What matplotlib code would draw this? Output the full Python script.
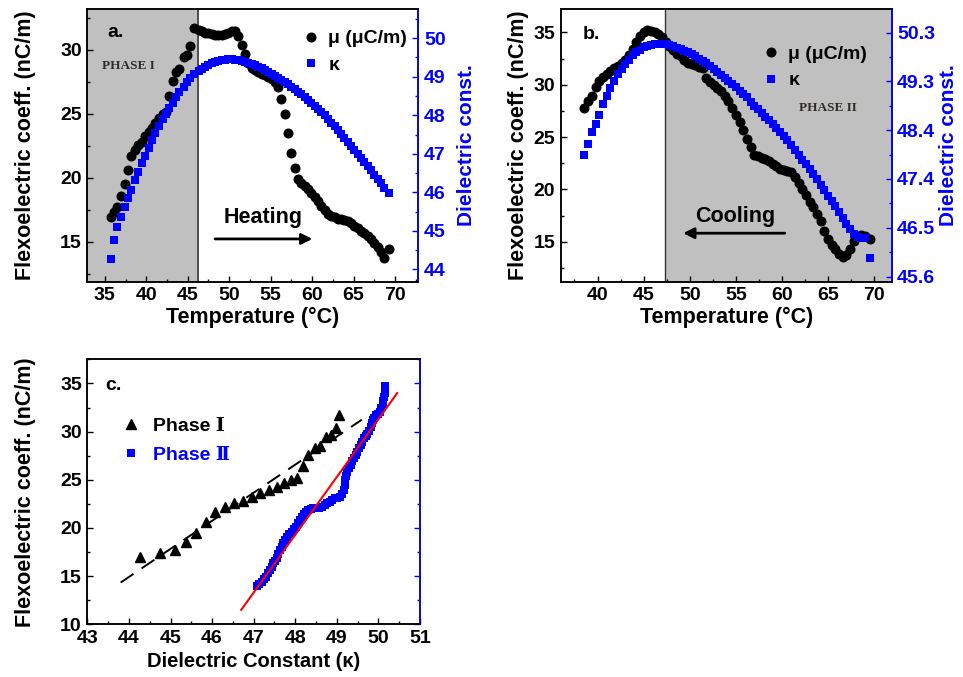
import matplotlib
matplotlib.use("Agg")
import matplotlib.pyplot as plt
from matplotlib.ticker import MultipleLocator, FixedLocator
import numpy as np

plt.rcParams["font.family"] = ["Liberation Sans", "DejaVu Sans"]
plt.rcParams["font.weight"] = "bold"
plt.rcParams["axes.labelweight"] = "bold"

BLUE = "#0000ff"

# ---------------- panel a : heating ----------------
temp_a = [35.7, 36.1, 36.5, 37.0, 37.4, 37.8, 38.2, 38.6, 39.0, 39.5,
          39.9, 40.3, 40.7, 41.1, 41.5, 42.0, 42.4, 42.8, 43.2, 43.6,
          44.0, 44.5, 44.9, 45.3, 45.7,
          46.3, 46.7, 47.1, 47.5, 47.9, 48.3, 48.7, 49.1, 49.5, 49.9,
          50.3, 50.7, 51.1, 51.5, 51.9, 52.3, 52.7, 53.1, 53.5, 53.9,
          54.3, 54.7, 55.1, 55.5, 55.9, 56.3, 56.7, 57.1, 57.5, 57.9,
          58.3, 58.7, 59.1, 59.5, 59.9, 60.3, 60.7, 61.1, 61.5, 61.9,
          62.3, 62.7, 63.1, 63.5, 63.9, 64.3, 64.7, 65.1, 65.5, 65.9,
          66.3, 66.7, 67.1, 67.5, 67.9, 68.3, 68.7, 69.3]
mu_a = [16.95, 17.36, 17.71, 18.57, 19.5, 20.64, 21.68, 22.2, 22.55, 22.83,
        23.24, 23.59, 23.93, 24.27, 24.69, 24.97, 25.14, 26.42, 27.56, 28.25,
        28.5, 29.46, 29.64, 30.33, 31.71,
        31.55, 31.45, 31.35, 31.3, 31.25, 31.2, 31.2, 31.2, 31.25, 31.3,
        31.45, 31.5, 31.1, 30.4, 29.7, 29.0, 28.6, 28.4, 28.25, 28.1,
        28.0, 27.9, 27.75, 27.5, 27.1, 26.2, 25.0, 23.5, 21.95, 20.8,
        19.9, 19.6, 19.35, 19.1, 18.8, 18.5, 18.15, 17.8, 17.45, 17.2,
        17.0, 16.9, 16.8, 16.75, 16.7, 16.6, 16.45, 16.25, 16.05, 15.85,
        15.65, 15.45, 15.2, 14.9, 14.55, 14.2, 13.75, 14.45]
kappa_a = [44.27, 44.75, 45.11, 45.37, 45.62, 45.85, 46.06, 46.31, 46.53, 46.75,
           46.95, 47.16, 47.37, 47.55, 47.73, 47.9, 48.03, 48.18, 48.31, 48.47,
           48.6, 48.74, 48.85, 48.97, 49.06,
           49.15, 49.2, 49.26, 49.3, 49.35, 49.38, 49.41, 49.43, 49.44, 49.45,
           49.45, 49.44, 49.43, 49.41, 49.39, 49.36, 49.33, 49.3, 49.26, 49.22,
           49.18, 49.13, 49.08, 49.03, 48.97, 48.92, 48.86, 48.8, 48.74, 48.68,
           48.61, 48.54, 48.47, 48.4, 48.32, 48.24, 48.16, 48.08, 48.0, 47.9,
           47.81, 47.71, 47.61, 47.51, 47.41, 47.31, 47.2, 47.1, 47.0, 46.9,
           46.79, 46.68, 46.57, 46.46, 46.35, 46.24, 46.12, 45.97]
t_heat = 46.2   # phase I boundary on heating

# ---------------- panel b : cooling ----------------
temp_b = [38.5, 39.0, 39.4, 39.8, 40.2, 40.6, 41.0, 41.4, 41.8, 42.2,
          42.6, 43.0, 43.4, 43.8, 44.2, 44.6, 45.0, 45.4, 45.8, 46.2,
          46.6, 47.0, 47.4, 47.8, 48.2, 48.6, 49.0, 49.4, 49.8, 50.2,
          50.6, 51.0, 51.4, 51.8, 52.2, 52.6, 53.0, 53.4, 53.8, 54.2,
          54.6, 55.0, 55.4, 55.8, 56.2, 56.6, 57.0, 57.4, 57.8, 58.2,
          58.6, 59.0, 59.4, 59.8, 60.2, 60.6, 61.0, 61.4, 61.8, 62.2,
          62.6, 63.0, 63.4, 63.8, 64.2, 64.6, 65.0, 65.4, 65.8, 66.2,
          66.6, 67.0, 67.4, 67.8, 68.2, 68.6, 69.0, 69.5]
mu_b = [27.8, 28.4, 28.95, 29.8, 30.4, 30.77, 31.05, 31.3, 31.55, 31.8,
        32.05, 32.4, 32.8, 33.4, 34.05, 34.65, 35.0, 35.2, 35.15, 35.05,
        34.85, 34.55, 34.05, 33.65, 33.3, 32.95, 32.7, 32.4, 32.1, 31.95,
        31.85, 31.7, 31.55, 30.6, 30.25, 29.95, 29.7, 29.4, 28.95, 28.4,
        27.75, 27.1, 26.4, 25.7, 24.8, 24.1, 23.3, 23.15, 23.05, 22.9,
        22.7, 22.45, 22.2, 22.0, 21.85, 21.75, 21.65, 21.2, 20.6, 20.0,
        19.45, 18.85, 18.3, 17.7, 17.0, 16.0, 15.3, 14.75, 14.3, 13.85,
        13.6, 13.75, 14.35, 15.05, 15.55, 15.7, 15.55, 15.3]
kappa_b = [47.94, 48.15, 48.38, 48.54, 48.72, 48.92, 49.08, 49.24, 49.37, 49.5,
           49.6, 49.7, 49.78, 49.86, 49.93, 49.97, 50.02, 50.05, 50.07, 50.09,
           50.09, 50.09, 50.08, 50.06, 50.04, 50.01, 49.98, 49.95, 49.92, 49.88,
           49.84, 49.8, 49.76, 49.71, 49.66, 49.6, 49.55, 49.49, 49.43, 49.37,
           49.31, 49.25, 49.18, 49.12, 49.05, 48.97, 48.89, 48.82, 48.75, 48.68,
           48.61, 48.54, 48.46, 48.39, 48.31, 48.23, 48.13, 48.04, 47.95, 47.85,
           47.76, 47.67, 47.58, 47.48, 47.37, 47.26, 47.15, 47.05, 46.95, 46.85,
           46.73, 46.62, 46.52, 46.42, 46.37, 46.35, 46.34, 45.95]
t_cool = 47.35  # phase II boundary on cooling
kappa_b_ticks = [45.6, 46.54, 47.48, 48.42, 49.36, 50.3]
kappa_b_labels = ["45.6", "46.5", "47.4", "48.4", "49.3", "50.3"]

# ---------------- panel c : mu vs kappa ----------------
kappa_c2 = [47.07, 47.13, 47.19, 47.25, 47.3, 47.35, 47.39, 47.43, 47.47, 47.51,
            47.55, 47.59, 47.63, 47.67, 47.71, 47.76, 47.81, 47.86, 47.91, 47.97,
            48.02, 48.07, 48.11, 48.16, 48.21, 48.26, 48.31, 48.37, 48.43, 48.5,
            48.58, 48.65, 48.71, 48.77, 48.83, 48.89, 48.95, 49.01, 49.07, 49.13,
            49.17, 49.19, 49.2, 49.23, 49.25, 49.29, 49.33, 49.37, 49.41, 49.45,
            49.49, 49.53, 49.57, 49.61, 49.65, 49.69, 49.73, 49.77, 49.81, 49.84,
            49.87, 49.9, 49.94, 49.99, 50.04, 50.07, 50.1, 50.12, 50.13, 50.15,
            50.16, 50.16]
mu_c2 = [13.97, 14.2, 14.42, 14.7, 14.94, 15.3, 15.63, 16.0, 16.33, 16.6,
         16.85, 17.3, 17.71, 18.05, 18.4, 18.75, 19.09, 19.35, 19.6, 19.85,
         20.12, 20.5, 20.82, 21.15, 21.44, 21.65, 21.86, 21.95, 22.03, 22.03,
         22.03, 22.2, 22.38, 22.55, 22.72, 22.9, 23.07, 23.15, 23.24, 23.5,
         23.93, 24.45, 24.97, 25.4, 25.83, 26.2, 26.53, 26.9, 27.22, 27.55,
         27.9, 28.25, 28.6, 28.95, 29.29, 29.5, 29.74, 30.1, 30.5, 30.85,
         31.19, 31.45, 31.7, 31.85, 32.05, 32.4, 32.75, 33.2, 33.6, 34.05,
         34.48, 34.7]
fit_span_1 = [43.8, 49.6]
fit_span_2 = [46.7, 50.45]

# phase I points of panel c are the heating points below the transition
temp_a_arr = np.array(temp_a)
phase1 = temp_a_arr < t_heat
kappa_c1 = np.array(kappa_a)[phase1]
mu_c1 = np.array(mu_a)[phase1]


def style_axes(ax):
    for s in ax.spines.values():
        s.set_linewidth(1.1)
    ax.tick_params(which="both", direction="in", width=1.0, labelsize=14, pad=4)
    ax.tick_params(which="major", length=4.5)
    ax.tick_params(which="minor", length=2.5)


def style_right(ax2):
    style_axes(ax2)
    ax2.spines["right"].set_color(BLUE)
    ax2.tick_params(axis="y", which="both", colors=BLUE)


fig = plt.figure(figsize=(9.63, 6.77), dpi=100)
ax_a = fig.add_axes([0.0907, 0.5839, 0.3437, 0.4024])
ax_b = fig.add_axes([0.5822, 0.5839, 0.3437, 0.4024])
ax_c = fig.add_axes([0.0907, 0.0778, 0.3455, 0.3914])

# ===== panel a =====
ax_a.axvspan(32.9, t_heat, color="#c0c0c0", lw=0, zorder=0)
ax_a.axvline(t_heat, color="#4d4d4d", lw=1.4, zorder=1)
mu_line_a, = ax_a.plot(temp_a, mu_a, "o", color="k", ms=6.2, zorder=3)
ax_a.set_xlim(32.9, 72.8)
ax_a.set_ylim(11.87, 33.18)
ax_a.xaxis.set_major_locator(MultipleLocator(5))
ax_a.xaxis.set_minor_locator(MultipleLocator(2.5))
ax_a.yaxis.set_major_locator(MultipleLocator(5))
ax_a.yaxis.set_minor_locator(MultipleLocator(2.5))
style_axes(ax_a)
ax_a.set_xlabel("Temperature (°C)", fontsize=15.5, labelpad=2)
ax_a.set_ylabel("Flexoelectric coeff. (nC/m)", fontsize=15.5, labelpad=17)

ax_a2 = ax_a.twinx()
k_line_a, = ax_a2.plot(temp_a, kappa_a, "s", color=BLUE, ms=5.9, mew=0)
ax_a2.set_ylim(43.68, 50.75)
ax_a2.yaxis.set_major_locator(MultipleLocator(1))
ax_a2.yaxis.set_minor_locator(MultipleLocator(0.5))
style_right(ax_a2)
ax_a2.set_ylabel("Dielectric const.", fontsize=15, color=BLUE, labelpad=8)
ax_a2.legend([mu_line_a, k_line_a], ["μ (μC/m)", "κ"], loc="upper left",
             bbox_to_anchor=(0.646, 0.925), frameon=False, fontsize=14,
             handlelength=1.0, handletextpad=0.4, borderpad=0,
             borderaxespad=0, labelspacing=0.45, numpoints=1)

ax_a2.text(0.084, 0.913, "a.", transform=ax_a2.transAxes, fontsize=14,
           ha="center", va="center")
ax_a2.text(0.123, 0.793, "PHASE I", transform=ax_a2.transAxes,
           fontsize=9.5, family="Liberation Serif", color="#2e2a26",
           ha="center", va="center")
ax_a2.text(0.531, 0.234, "Heating", transform=ax_a2.transAxes,
           fontsize=15.5, ha="center", va="center")
ax_a2.annotate("", xy=(0.68, 0.157), xytext=(0.386, 0.157),
               xycoords="axes fraction", textcoords="axes fraction",
               arrowprops=dict(arrowstyle="-|>", color="k", lw=2,
                               mutation_scale=16, shrinkA=0, shrinkB=0))

# ===== panel b =====
ax_b.axvspan(t_cool, 71.9, color="#c0c0c0", lw=0, zorder=0)
ax_b.axvline(t_cool, color="#333333", lw=1.0, zorder=1)
mu_line_b, = ax_b.plot(temp_b, mu_b, "o", color="k", ms=6.2, zorder=3)
ax_b.set_xlim(36.0, 71.9)
ax_b.set_ylim(11.2, 37.2)
ax_b.xaxis.set_major_locator(MultipleLocator(5))
ax_b.xaxis.set_minor_locator(MultipleLocator(2.5))
ax_b.yaxis.set_major_locator(MultipleLocator(5))
ax_b.yaxis.set_minor_locator(MultipleLocator(2.5))
style_axes(ax_b)
ax_b.set_xlabel("Temperature (°C)", fontsize=15.5, labelpad=2)
ax_b.set_ylabel("Flexoelectric coeff. (nC/m)", fontsize=15.5, labelpad=3)

ax_b2 = ax_b.twinx()
k_line_b, = ax_b2.plot(temp_b, kappa_b, "s", color=BLUE, ms=5.9, mew=0)
ax_b2.set_ylim(45.5, 50.75)
ax_b2.yaxis.set_major_locator(FixedLocator(kappa_b_ticks))
ax_b2.set_yticklabels(kappa_b_labels)
ax_b2.yaxis.set_minor_locator(FixedLocator(
    [(a + b) / 2 for a, b in zip(kappa_b_ticks[:-1], kappa_b_ticks[1:])]))
style_right(ax_b2)
ax_b2.set_ylabel("Dielectric const.", fontsize=15, color=BLUE, labelpad=3)
ax_b2.legend([mu_line_b, k_line_b], ["μ (μC/m)", "κ"], loc="upper left",
             bbox_to_anchor=(0.605, 0.867), frameon=False, fontsize=14,
             handlelength=1.0, handletextpad=0.4, borderpad=0,
             borderaxespad=0, labelspacing=0.45, numpoints=1)

ax_b2.text(0.094, 0.906, "b.", transform=ax_b2.transAxes, fontsize=14,
           ha="center", va="center")
ax_b2.text(0.808, 0.637, "PHASE II", transform=ax_b2.transAxes,
           fontsize=9.5, family="Liberation Serif", color="#2e2a26",
           ha="center", va="center")
ax_b2.text(0.527, 0.239, "Cooling", transform=ax_b2.transAxes,
           fontsize=15.5, ha="center", va="center")
ax_b2.annotate("", xy=(0.37, 0.178), xytext=(0.677, 0.178),
               xycoords="axes fraction", textcoords="axes fraction",
               arrowprops=dict(arrowstyle="-|>", color="k", lw=2,
                               mutation_scale=16, shrinkA=0, shrinkB=0))

# ===== panel c =====
p1 = np.polyfit(kappa_c1, mu_c1, 1)
p2 = np.polyfit(kappa_c2, mu_c2, 1)
ax_c.plot(fit_span_1, np.polyval(p1, fit_span_1), color="k", lw=1.4,
          dashes=(8, 5), zorder=2)
ax_c.plot(fit_span_2, np.polyval(p2, fit_span_2), color="red", lw=1.5,
          zorder=4)
tri, = ax_c.plot(kappa_c1, mu_c1, "^", color="k", ms=6.8, zorder=3)
sq, = ax_c.plot(kappa_c2, mu_c2, "s", color=BLUE, ms=6.0, mew=0, zorder=3)
ax_c.set_xlim(43, 51)
ax_c.set_ylim(10, 37.5)
ax_c.xaxis.set_major_locator(MultipleLocator(1))
ax_c.xaxis.set_minor_locator(MultipleLocator(0.5))
ax_c.yaxis.set_major_locator(MultipleLocator(5))
ax_c.yaxis.set_minor_locator(MultipleLocator(2.5))
style_axes(ax_c)
ax_c.set_xlabel("Dielectric Constant (κ)", fontsize=14.5, labelpad=4)
ax_c.set_ylabel("Flexoelectric coeff. (nC/m)", fontsize=15.5, labelpad=17)
leg = ax_c.legend([tri, sq], ["Phase \u2160", "Phase \u2161"],
                  loc="upper left", bbox_to_anchor=(0.103, 0.782),
                  frameon=False, handlelength=1.0,
                  prop={"family": ["Liberation Sans", "DejaVu Serif"],
                        "weight": "bold", "size": 14},
                  handletextpad=0.6, borderpad=0, borderaxespad=0,
                  labelspacing=0.6, numpoints=1)
leg.get_texts()[1].set_color(BLUE)
ax_c.text(0.078, 0.903, "c.", transform=ax_c.transAxes, fontsize=14,
          ha="center", va="center")

ax_c2 = ax_c.twinx()
ax_c2.set_ylim(10, 37.5)
ax_c2.yaxis.set_major_locator(MultipleLocator(5))
ax_c2.yaxis.set_minor_locator(MultipleLocator(2.5))
style_right(ax_c2)
ax_c2.tick_params(axis="y", labelright=False)

fig.savefig("out.png", dpi=100)
